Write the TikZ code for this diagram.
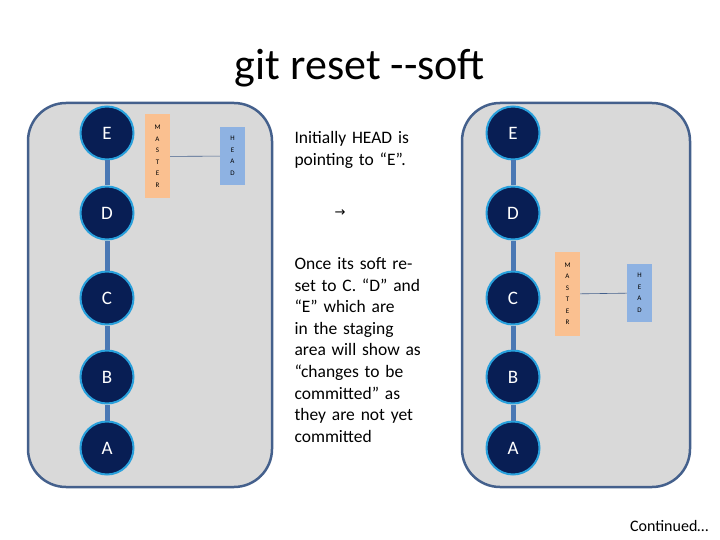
\documentclass[tikz,border=0pt]{standalone}
\usepackage{fontspec}
\setmainfont{Carlito}
\newfontfamily\arrowfont{DejaVu Sans}
\usetikzlibrary{positioning}
\definecolor{panelgrey}{RGB}{217,217,217}
\definecolor{panelblue}{RGB}{68,96,140}
\definecolor{commitnavy}{RGB}{8,30,84}
\definecolor{commitring}{RGB}{40,160,220}
\definecolor{linkblue}{RGB}{74,120,180}
\definecolor{masterorange}{RGB}{250,192,144}
\definecolor{headblue}{RGB}{142,178,226}
\begin{document}
\begin{tikzpicture}[
  x=1pt, y=-1pt,
  panel/.style={draw=panelblue, line width=2.5pt, fill=panelgrey, rounded corners=38pt},
  commit/.style={circle, draw=commitring, line width=2pt, fill=commitnavy, text=white,
    minimum size=53pt, inner sep=0pt, font=\fontsize{19}{21}\selectfont},
  link/.style={linkblue, line width=5pt},
  ref/.style={minimum width=25pt, align=center, inner sep=0pt, font=\fontsize{7}{11.5}\selectfont},
  master/.style={ref, fill=masterorange, minimum height=84pt},
  head/.style={ref, fill=headblue, minimum height=58pt},
  pointer/.style={draw=panelblue, line width=0.6pt},
  note/.style={anchor=north west, align=left, text width=128pt, font=\fontsize{17.5}{21.6}\selectfont}
]
  \useasboundingbox (0,0) rectangle (720,540);
  % title
  \node[font=\fontsize{44}{48}\selectfont] (title) at (360,68) {git reset -{}-soft};

  % panels
  \draw[panel] (28,103) rectangle (272,487);
  \draw[panel] (462,103) rectangle (690,487);

  % left history
  \foreach \name/\y in {E/133, D/213, C/298, B/377, A/448}
    \node[commit] (l\name) at (107,\y) {\name};
  \foreach \a/\b in {E/D, D/C, C/B, B/A}
    \draw[link] (l\a) -- (l\b);
  \node[master] (lmaster) at (157.5,156.5) {M\\A\\S\\T\\E\\R};
  \node[head] (lhead) at (232.5,156) {H\\E\\A\\D};
  \draw[pointer] (lmaster) -- (lhead);

  % right history
  \foreach \name/\y in {E/133, D/213, C/298, B/377, A/448}
    \node[commit] (r\name) at (513,\y) {\name};
  \foreach \a/\b in {E/D, D/C, C/B, B/A}
    \draw[link] (r\a) -- (r\b);
  \node[master] (rmaster) at (567.5,294) {M\\A\\S\\T\\E\\R};
  \node[head] (rhead) at (639.5,293) {H\\E\\A\\D};
  \draw[pointer] (rmaster) -- (rhead);

  % notes
  \node[note] (initial) at (291,128) {Initially HEAD is pointing to “E”.};
  \node[font=\fontsize{13}{16}\arrowfont] (arrow) at (340,213) {→};
  \node[note] (explain) at (291,254) {Once its soft reset to C. “D” and “E” which are in the staging area will show as “changes to be committed” as they are not yet committed};
  \node[anchor=south east, font=\fontsize{16}{18}\selectfont] (cont) at (712,535) {Continued…};
\end{tikzpicture}
\end{document}
